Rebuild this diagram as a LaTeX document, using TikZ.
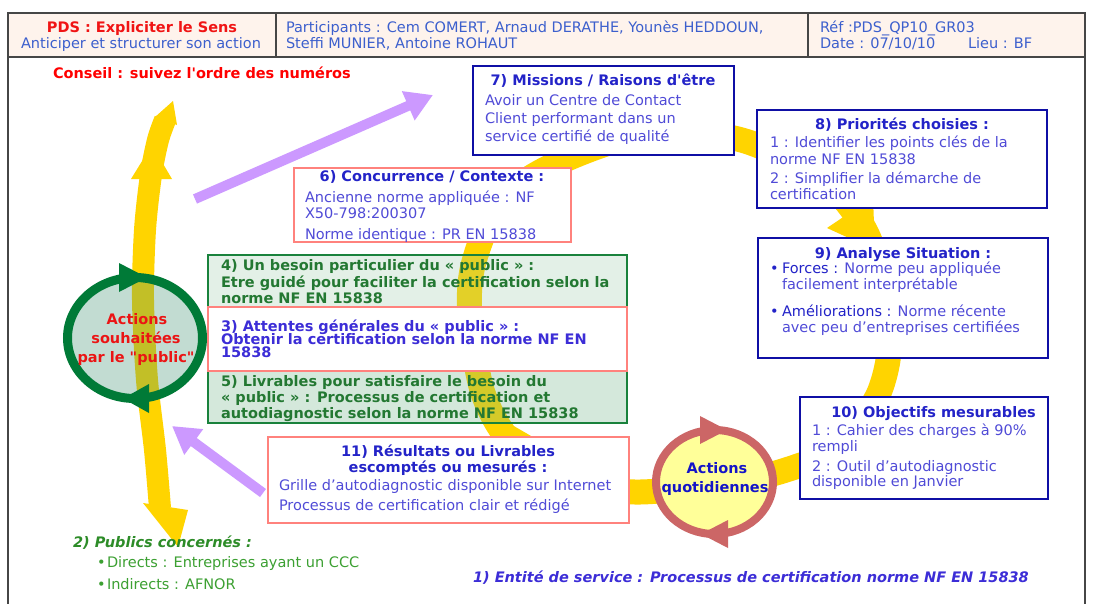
\documentclass[tikz,border=0pt]{standalone}
\usepackage{fontspec}
\setmainfont{DejaVu Sans}
\usetikzlibrary{arrows.meta}

\definecolor{hdrfill}{RGB}{254,243,236}
\definecolor{framegray}{RGB}{70,70,70}
\definecolor{hdrblue}{RGB}{60,95,205}
\definecolor{pdsred}{RGB}{240,20,20}
\definecolor{navy}{RGB}{15,15,165}
\definecolor{titleblue}{RGB}{35,35,200}
\definecolor{bodyblue}{RGB}{80,75,215}
\definecolor{violet}{RGB}{60,45,215}
\definecolor{salmon}{RGB}{255,130,125}
\definecolor{boxgreen}{RGB}{25,130,60}
\definecolor{txtgreen}{RGB}{35,120,50}
\definecolor{pubgreen}{RGB}{45,140,40}
\definecolor{bulgreen}{RGB}{60,160,50}
\definecolor{gold}{RGB}{255,212,0}
\definecolor{lilac}{RGB}{204,153,255}
\definecolor{ringgreen}{RGB}{0,122,55}
\definecolor{ringred}{RGB}{204,102,102}
\definecolor{paleyellow}{RGB}{255,255,153}
\definecolor{fourfill}{RGB}{147,199,163}
\definecolor{fivefill}{RGB}{115,182,138}
\definecolor{wishfill}{RGB}{70,150,120}
\definecolor{redtxt}{RGB}{235,20,20}
\definecolor{dailyblue}{RGB}{20,20,200}

\begin{document}
\begin{tikzpicture}[x=1pt,y=-1pt,
  every node/.style={inner sep=0pt, outer sep=0pt},
  fnt/.style={font=\fontsize{14.5}{17}\selectfont, yshift=-3pt},
  bfnt/.style={font=\fontsize{14.5}{17}\selectfont\bfseries, yshift=-3pt},
  body/.style={fnt, anchor=mid west, text=bodyblue},
  head/.style={bfnt, anchor=mid, text=titleblue},
  boldtxt/.style={bfnt, anchor=mid west},
  cell/.style={draw=framegray, line width=1.3pt, fill=hdrfill, anchor=north west, minimum height=44pt},
  bluebox/.style={draw=navy, line width=2.2pt, fill=white, anchor=north west},
  pinkbox/.style={draw=salmon, line width=2pt, fill=white, anchor=north west},
  greenbox/.style={draw=boxgreen, line width=2.5pt, anchor=north west},
  band/.style={draw=gold, line width=25pt},
  lilacarrow/.style={draw=lilac, line width=10pt, -{Triangle[width=30pt,length=27pt]}},
]
\useasboundingbox (0,0) rectangle (1093,603);
\fill[white] (0,0) rectangle (1093,603);

% outer frame
\node[draw=framegray, line width=1.3pt, anchor=north west, minimum width=1077pt, minimum height=570pt] (frame) at (8,57) {};

% header table
\node[cell, minimum width=268pt] (c1) at (8,13) {};
\node[cell, minimum width=532pt] (c2) at (276,13) {};
\node[cell, minimum width=277pt] (c3) at (808,13) {};
\node[bfnt, text=pdsred, anchor=mid] (pds) at (142,27) {PDS : Expliciter le Sens};
\node[fnt, text=hdrblue, anchor=mid] (ant) at (141,43) {Anticiper et structurer son action};
\node[body, text=hdrblue] (part1) at (286,27) {Participants : Cem COMERT, Arnaud DERATHE, Younès HEDDOUN,};
\node[body, text=hdrblue] (part2) at (286,43) {Steffi MUNIER, Antoine ROHAUT};
\node[body, text=hdrblue] (ref) at (820,27) {Réf :PDS\_QP10\_GR03};
\node[body, text=hdrblue] (date) at (820,43) {Date : 07/10/10};
\node[body, text=hdrblue] (lieu) at (968,43) {Lieu : BF};

\node[boldtxt, text=red] (conseil) at (53,73) {Conseil : suivez l\textquotesingle ordre des numéros};

% yellow bands
\draw[band] plot[smooth cycle] coordinates {(640,492) (600,488) (545,470) (505,435) (482,390) (470,320) (472,270) (490,220) (520,185) (560,162) (620,140) (690,132) (745,141) (800,165) (840,195) (865,230) (880,270) (889,320) (888,360) (878,395) (855,430) (825,455) (795,467) (760,477) (700,487)};
\fill[gold] (827,228) -- (873,197) -- (875,250) -- cycle;
\fill[gold] (488,440) -- (538,440) -- (500,418) -- cycle;
\draw[draw=gold, line width=22pt] plot[smooth] coordinates {(160,508) (155,450) (147,380) (143,300) (145,230) (151,175) (158,140) (165,120)};
\fill[gold] (131,179) -- (152,145) -- (172,179) -- cycle;
\fill[gold] (155,117) -- (173,101) -- (177,125) -- cycle;
\fill[gold] (143,503) -- (188,510) -- (178,547) -- cycle;

% boxes
\node[bluebox, minimum width=261pt, minimum height=89pt] (b7) at (473,66) {};
\node[bluebox, minimum width=290pt, minimum height=98pt] (b8) at (757,110) {};
\node[pinkbox, minimum width=277pt, minimum height=74pt] (b6) at (294,168) {};
\node[bluebox, minimum width=290pt, minimum height=120pt] (b9) at (758,238) {};
\node[greenbox, fill=fourfill, fill opacity=0.25, minimum width=419pt, minimum height=52pt] (b4) at (208,255) {};
\node[greenbox, fill=fivefill, fill opacity=0.3, minimum width=419pt, minimum height=52pt] (b5) at (208,371) {};
\node[pinkbox, minimum width=419pt, minimum height=64pt] (b3) at (208,307) {};
\node[bluebox, minimum width=248pt, minimum height=102pt] (b10) at (800,397) {};
\node[pinkbox, minimum width=361pt, minimum height=86pt] (b11) at (268,437) {};

% wished actions cycle
\fill[wishfill, fill opacity=0.33] (135,338) ellipse [x radius=67.5pt, y radius=60.5pt];
\draw[ringgreen, line width=9pt] (135,338) ellipse [x radius=67.5pt, y radius=60.5pt];
\fill[ringgreen] (119,263) -- (147,277.5) -- (119,292) -- cycle;
\fill[ringgreen] (149,384) -- (123,398.5) -- (149,413) -- cycle;
\node[bfnt, text=redtxt, anchor=mid] (w1) at (137,319) {Actions};
\node[bfnt, text=redtxt, anchor=mid] (w2) at (136,338) {souhaitées};
\node[bfnt, text=redtxt, anchor=mid] (w3) at (136,357) {par le \textquotedbl public\textquotedbl};

% daily actions cycle
\fill[paleyellow] (714.5,482) ellipse [x radius=58.5pt, y radius=52pt];
\draw[ringred, line width=8pt] (714.5,482) ellipse [x radius=58.5pt, y radius=52pt];
\fill[ringred] (700,416) -- (727,430) -- (700,444) -- cycle;
\fill[ringred] (728,520) -- (701,534) -- (728,548) -- cycle;
\node[bfnt, text=dailyblue, anchor=mid] (d1) at (717,468) {Actions};
\node[bfnt, text=dailyblue, anchor=mid] (d2) at (715,487) {quotidiennes};

% box 7
\node[head] (t7) at (603,80) {7) Missions / Raisons d\textquotesingle être};
\node[body] (t7a) at (485,100) {Avoir un Centre de Contact};
\node[body] (t7b) at (485,118) {Client performant dans un};
\node[body] (t7c) at (485,136) {service certifié de qualité};

% box 8
\node[head] (t8) at (902,124) {8) Priorités choisies :};
\node[body] (t8a) at (770,142) {1 : Identifier les points clés de la};
\node[body] (t8b) at (770,159) {norme NF EN 15838};
\node[body] (t8c) at (770,178) {2 : Simplifier la démarche de};
\node[body] (t8d) at (770,194) {certification};

% box 6
\node[head] (t6) at (432,176) {6) Concurrence / Contexte :};
\node[body] (t6a) at (305,197) {Ancienne norme appliquée : NF};
\node[body] (t6b) at (305,213) {X50-798:200307};
\node[body] (t6c) at (305,234) {Norme identique : PR EN 15838};

% box 9
\node[head] (t9) at (903,253) {9) Analyse Situation :};
\node[body, text=titleblue] (t9p1) at (770,268) {•};
\node[body] (t9a) at (782,268) {{\color{titleblue}Forces :} Norme peu appliquée};
\node[body] (t9b) at (782,284) {facilement interprétable};
\node[body, text=titleblue] (t9p2) at (770,311) {•};
\node[body] (t9c) at (782,311) {{\color{titleblue}Améliorations :} Norme récente};
\node[body] (t9d) at (782,327) {avec peu d’entreprises certifiées};

% boxes 4, 3, 5
\node[boldtxt, text=txtgreen] (t4a) at (221,265) {4) Un besoin particulier du « public » :};
\node[boldtxt, text=txtgreen] (t4b) at (221,282) {Etre guidé pour faciliter la certification selon la};
\node[boldtxt, text=txtgreen] (t4c) at (221,298) {norme NF EN 15838};
\node[boldtxt, text=violet] (t3a) at (221,326) {3) Attentes générales du « public » :};
\node[boldtxt, text=violet] (t3b) at (221,339) {Obtenir la certification selon la norme NF EN};
\node[boldtxt, text=violet] (t3c) at (221,352) {15838};
\node[boldtxt, text=txtgreen] (t5a) at (221,381) {5) Livrables pour satisfaire le besoin du};
\node[boldtxt, text=txtgreen] (t5b) at (221,397) {« public » : Processus de certification et};
\node[boldtxt, text=txtgreen] (t5c) at (221,413) {autodiagnostic selon la norme NF EN 15838};

% box 10
\node[head] (t10) at (933.5,412) {10) Objectifs mesurables};
\node[body] (t10a) at (812,430) {1 : Cahier des charges à 90\%};
\node[body] (t10b) at (812,446) {rempli};
\node[body] (t10c) at (812,466) {2 : Outil d’autodiagnostic};
\node[body] (t10d) at (812,481) {disponible en Janvier};

% box 11
\node[head] (t11a) at (448,451) {11) Résultats ou Livrables};
\node[head] (t11b) at (448,467) {escomptés ou mesurés :};
\node[body] (t11c) at (279,485) {Grille d’autodiagnostic disponible sur Internet};
\node[body] (t11d) at (279,505) {Processus de certification clair et rédigé};

% bottom notes
\node[bfnt, font=\fontsize{14.5}{17}\selectfont\bfseries\itshape, text=pubgreen, anchor=mid west] (pub) at (73,542) {2) Publics concernés :};
\node[body, text=bulgreen] (pubb1) at (97,562) {•};
\node[body, text=bulgreen] (pub1) at (107,562) {Directs : Entreprises ayant un CCC};
\node[body, text=bulgreen] (pubb2) at (97,584) {•};
\node[body, text=bulgreen] (pub2) at (107,584) {Indirects : AFNOR};
\node[bfnt, font=\fontsize{14.5}{17}\selectfont\bfseries\itshape, text=violet, anchor=mid west] (ent) at (473,577) {1) Entité de service : Processus de certification norme NF EN 15838};

% lilac arrows
\coordinate (a1s) at (195,199);
\coordinate (a1e) at (433,95);
\draw[lilacarrow] (a1s) -- (a1e);
\coordinate (a2s) at (263,493);
\coordinate (a2e) at (172,426);
\draw[lilacarrow] (a2s) -- (a2e);
\end{tikzpicture}
\end{document}
